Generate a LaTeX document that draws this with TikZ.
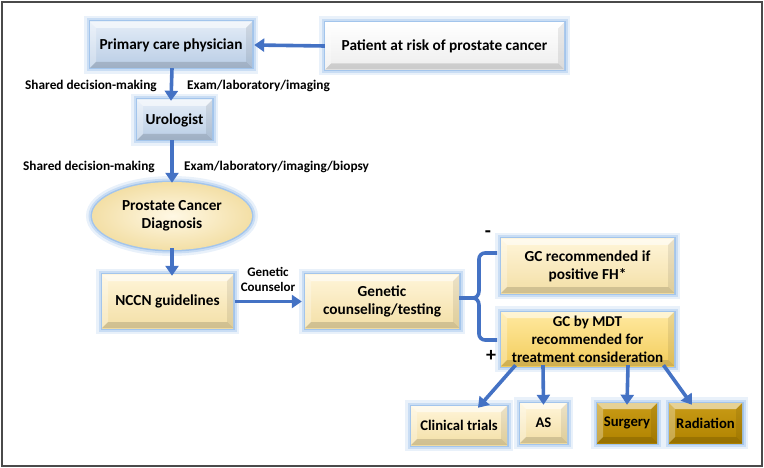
\documentclass[tikz,border=0pt]{standalone}
\usepackage{fontspec}
\setmainfont{Carlito}
\usetikzlibrary{arrows.meta,shapes.geometric,calc}
\definecolor{arrowblue}{HTML}{4472C4}
\definecolor{glowc}{HTML}{8FB8E8}
\definecolor{bluetop}{HTML}{E3ECF7}
\definecolor{bluebot}{HTML}{B9CDE5}
\definecolor{creamtop}{HTML}{FFF5D9}
\definecolor{creambot}{HTML}{F3DFA6}
\definecolor{goldtop}{HTML}{FFE9A0}
\definecolor{goldbot}{HTML}{F3CD5C}
\definecolor{darktop}{HTML}{C99B16}
\definecolor{darkbot}{HTML}{B08300}
\definecolor{framec}{HTML}{4A4A4A}
\tikzset{
  glow/.style={preaction={draw=glowc,line width=12pt,opacity=.2},
               preaction={draw=glowc,line width=7pt,opacity=.35},
               preaction={draw=glowc,line width=3pt,opacity=.65}},
  bev/.style={path picture={
    \fill[white,opacity=.55] (path picture bounding box.north west) -- (path picture bounding box.north east)
      -- ([xshift=-6pt,yshift=-6pt]path picture bounding box.north east) -- ([xshift=6pt,yshift=-6pt]path picture bounding box.north west) -- cycle;
    \fill[white,opacity=.3] (path picture bounding box.north west) -- (path picture bounding box.south west)
      -- ([xshift=6pt,yshift=6pt]path picture bounding box.south west) -- ([xshift=6pt,yshift=-6pt]path picture bounding box.north west) -- cycle;
    \fill[black,opacity=.14] (path picture bounding box.south west) -- (path picture bounding box.south east)
      -- ([xshift=-6pt,yshift=6pt]path picture bounding box.south east) -- ([xshift=6pt,yshift=6pt]path picture bounding box.south west) -- cycle;
    \fill[black,opacity=.08] (path picture bounding box.north east) -- (path picture bounding box.south east)
      -- ([xshift=-6pt,yshift=6pt]path picture bounding box.south east) -- ([xshift=-6pt,yshift=-6pt]path picture bounding box.north east) -- cycle;
  }},
  box/.style={rectangle,glow,bev,inner sep=2pt,align=center,font=\bfseries\fontsize{15.3}{18}\selectfont},
  bluebox/.style={box,top color=bluetop,bottom color=bluebot},
  whitebox/.style={box,top color=white,bottom color=white!93!black},
  creambox/.style={box,top color=creamtop,bottom color=creambot},
  goldbox/.style={box,top color=goldtop,bottom color=goldbot},
  darkbox/.style={box,top color=darktop,bottom color=darkbot},
  small/.style={font=\bfseries\fontsize{14.7}{17}\selectfont},
  lab/.style={font=\bfseries\fontsize{13.3}{15}\selectfont,inner sep=0pt,align=center},
  arr/.style={draw=arrowblue,line width=3.6pt,-{Triangle[length=10pt,width=13pt]}},
  brace/.style={draw=arrowblue,line width=3.6pt},
  sign/.style={font=\bfseries\fontsize{20}{20}\selectfont,inner sep=0pt}
}
\begin{document}
\begin{tikzpicture}[x=1pt,y=-1pt]
\useasboundingbox (0,0) rectangle (764,468);
\draw[framec,line width=2.2pt] (2,2) rectangle (762,466);

\node[bluebox,minimum width=162pt,minimum height=46pt] (pcp) at (171,45) {Primary care physician};
\node[whitebox,minimum width=239pt,minimum height=47pt] (pat) at (444.5,46) {Patient at risk of prostate cancer};
\node[bluebox,minimum width=75pt,minimum height=40pt] (uro) at (174.5,120) {Urologist};
\node[ellipse,glow,inner color=creamtop!70!white,outer color=creambot,minimum width=160pt,minimum height=68pt,inner sep=0pt,align=center,font=\bfseries\fontsize{15.3}{18}\selectfont] (diag) at (172,216) {Prostate Cancer\\Diagnosis};
\node[creambox,minimum width=131pt,minimum height=53pt] (nccn) at (167.5,301.5) {NCCN guidelines};
\node[creambox,minimum width=154pt,minimum height=53pt] (gen) at (382,301.5) {Genetic\\counseling/testing};
\node[creambox,minimum width=173pt,minimum height=54pt] (gcr) at (587.5,266) {GC recommended if\\positive FH*};
\node[goldbox,minimum width=173pt,minimum height=54pt,font=\bfseries\fontsize{15}{18}\selectfont] (mdt) at (587.5,339) {GC by MDT\\recommended for\\treatment consideration};
\node[creambox,small,minimum width=96pt,minimum height=39pt] (ct) at (459,425.5) {Clinical trials};
\node[creambox,small,minimum width=47pt,minimum height=40pt] (as) at (543.5,423) {AS};
\node[darkbox,small,minimum width=60pt,minimum height=40pt] (sur) at (627,423) {Surgery};
\node[darkbox,small,minimum width=73pt,minimum height=40pt] (rad) at (705.5,423) {Radiation};

\node[lab,anchor=west] (l1) at (25,86) {Shared decision-making};
\node[lab,anchor=west] (l2) at (187,86) {Exam/laboratory/imaging};
\node[lab,anchor=west] (l3) at (23,167) {Shared decision-making};
\node[lab,anchor=west] (l4) at (184,167) {Exam/laboratory/imaging/biopsy};
\node[lab,font=\bfseries\fontsize{13}{15.5}\selectfont] (l5) at (268,279.5) {Genetic\\Counselor};
\node[sign] (minus) at (488,234) {-};
\node[sign] (plus) at (491,356) {+};

\draw[arr] (pat.west) -- ([xshift=2pt]pcp.east);
\draw[arr] ([xshift=1pt]pcp.south) -- ([yshift=-1pt]pcp.south |- uro.north);
\draw[arr] ([xshift=-2.5pt]uro.south) -- ([xshift=-2.5pt,yshift=-1pt]uro.south |- diag.north);
\draw[arr] ([yshift=2pt]diag.south) -- ([yshift=-1pt]diag.south |- nccn.north);
\draw[arr] ([xshift=2pt]nccn.east) -- ([xshift=-3pt]gen.west);

\coordinate (bx) at (473,298);
\coordinate (bt) at (497,253);
\coordinate (bb) at (497,340);
\draw[brace] (bt) -- (485,253) to[out=180,in=90] (479,259) -- (479,291) to[out=-90,in=0] (bx) -- (gen.east |- bx);
\draw[brace] (bb) -- (485,340) to[out=180,in=-90] (479,334) -- (479,305) to[out=90,in=0] (bx);

\draw[arr] ([xshift=-72pt,yshift=1pt]mdt.south) -- ([xshift=19pt,yshift=-2pt]ct.north);
\draw[arr] ([xshift=-44.5pt,yshift=1pt]mdt.south) -- ([yshift=-2pt]as.north);
\draw[arr] ([xshift=40.5pt,yshift=1pt]mdt.south) -- ([yshift=-2pt]sur.north);
\draw[arr] ([xshift=76pt,yshift=1pt]mdt.south) -- ([xshift=-13.5pt,yshift=-2pt]rad.north);
\end{tikzpicture}
\end{document}
